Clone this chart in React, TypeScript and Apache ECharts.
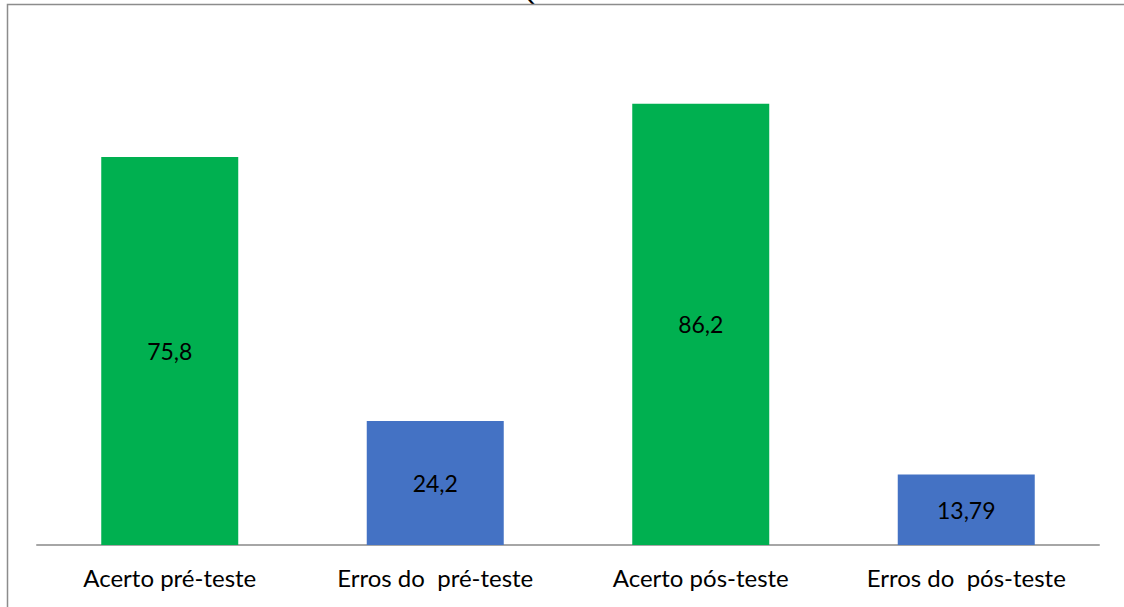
import React, { useEffect, useRef } from "react";
import * as echarts from "echarts";

const categories = ["Acerto pré-teste", "Erros do  pré-teste", "Acerto pós-teste", "Erros do  pós-teste"];
const values = [75.8, 24.2, 86.2, 13.79];
const barColors = ["#00B050", "#4472C4", "#00B050", "#4472C4"];

const FONT = "Lato, 'Noto Sans', sans-serif";

export default function App() {
  const ref = useRef<HTMLDivElement>(null);

  useEffect(() => {
    if (!ref.current) return;
    const chart = echarts.init(ref.current, null, { renderer: "svg" });
    chart.setOption({
      animation: false,
      backgroundColor: "#ffffff",
      grid: { left: 37, right: 25, top: 33, bottom: 62, containLabel: false },
      xAxis: {
        type: "category",
        data: categories,
        axisLine: { show: true, lineStyle: { color: "#a6a6a6", width: 2 } },
        axisTick: { show: false },
        axisLabel: {
          color: "#000000",
          fontFamily: FONT,
          fontSize: 24,
          margin: 20,
        },
      },
      yAxis: {
        type: "value",
        min: 0,
        max: 100,
        show: false,
        splitLine: { show: false },
      },
      graphic: [
        {
          type: "rect",
          shape: { x: 7.5, y: 4.5, width: 1140, height: 640 },
          style: { fill: "none", stroke: "#8c8c8c", lineWidth: 1.5 },
          silent: true,
          z: 10,
        },
        {
          type: "text",
          left: 514,
          top: -23,
          style: { text: "Q", fontSize: 26, fontFamily: FONT, fill: "#000000" },
          silent: true,
        },
      ],
      series: [
        {
          type: "bar",
          barWidth: "51.6%",
          data: values.map((v, i) => ({ value: v, itemStyle: { color: barColors[i] } })),
          label: {
            show: true,
            position: "inside",
            color: "#000000",
            fontFamily: FONT,
            fontSize: 23,
            formatter: (p: any) => String(p.value).replace(".", ","),
          },
        },
      ],
    });
    return () => chart.dispose();
  }, []);

  return (
    <div
      ref={ref}
      style={{ position: "absolute", left: 0, top: 0, width: 1124, height: 607 }}
    />
  );
}
